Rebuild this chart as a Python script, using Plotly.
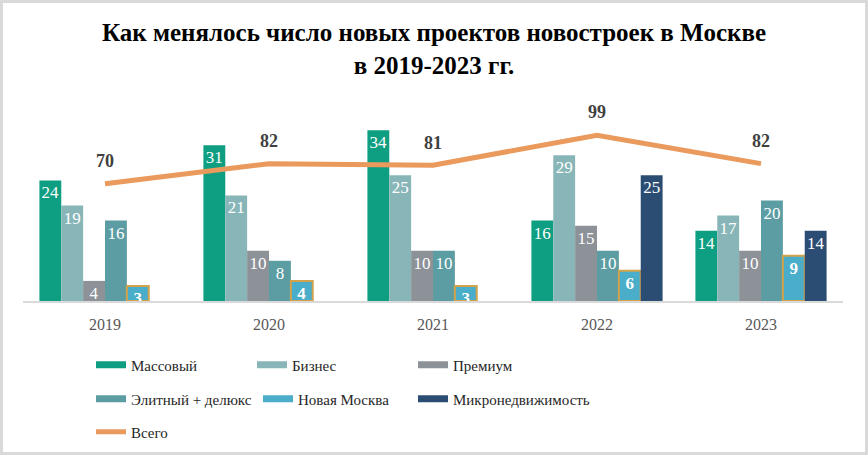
import plotly.graph_objs as go

# data
years = ['2019', '2020', '2021', '2022', '2023']
mass = [24, 31, 34, 16, 14]
business = [19, 21, 25, 29, 17]
premium = [4, 10, 10, 15, 10]
elite = [16, 8, 10, 10, 20]
new_moscow = [3, 4, 3, 6, 9]
micro = [None, None, None, 25, 14]
total = [70, 82, 81, 99, 82]

FONT = 'Liberation Serif'

W, H = 868, 456
ML, MR, MT, MB = 23, 25, 100, 155
PW = W - ML - MR
PH = H - MT - MB

# name, values, fill, border, legend row, legend entry width
bar_series = [
    ('Массовый', mass, '#0E9E82', None, 'legend', 116),
    ('Бизнес', business, '#88B6B8', None, 'legend', 116),
    ('Премиум', premium, '#8D9198', None, 'legend', 116),
    ('Элитный + делюкс', elite, '#5B9DA3', None, 'legend2', 122),
    ('Новая Москва', new_moscow, '#4AADC9', '#D2A24C', 'legend2', 110),
    ('Микронедвижимость', micro, '#2C4D73', None, 'legend2', 170),
]

data = []
for name, vals, color, border, leg, lw in bar_series:
    bold = border is not None
    data.append(go.Bar(
        x=years, y=vals, name=name, showlegend=False,
        marker=dict(color=color,
                    line=dict(color=border or color, width=2 if border else 0)),
        text=[('<b>%d</b>' % v if bold else str(v)) if v is not None else ''
              for v in vals],
        textposition='inside', insidetextanchor='end', constraintext='none',
        textangle=0,
        textfont=dict(family=FONT, size=17, color='white'),
    ))
    # legend entry drawn as a wide swatch like the original
    data.append(go.Scatter(
        x=[None], y=[None], name=name, mode='lines', legend=leg,
        legendwidth=lw, line=dict(color=color, width=7),
    ))

data.append(go.Scatter(
    x=years, y=total, name='Всего', yaxis='y2', showlegend=False,
    mode='lines+markers+text',
    line=dict(color='#E99A5C', width=5),
    marker=dict(size=18, opacity=0, color='#E99A5C'),
    text=['<b>%d</b>' % v for v in total], textposition='top center',
    textfont=dict(family=FONT, size=18, color='#404040'),
    cliponaxis=False,
))
data.append(go.Scatter(
    x=[None], y=[None], name='Всего', mode='lines', legend='legend3',
    legendwidth=116, line=dict(color='#E99A5C', width=5),
))


def leg(y):
    return dict(orientation='h', x=(91 - ML) / PW, xanchor='left',
                y=(MT + PH - y) / PH, yanchor='middle',
                font=dict(family=FONT, size=15, color='#262626'),
                bgcolor='rgba(0,0,0,0)')


layout = go.Layout(
    width=W, height=H,
    margin=dict(l=ML, r=MR, t=MT, b=MB, autoexpand=False),
    paper_bgcolor='white', plot_bgcolor='white',
    barmode='group', bargap=0.2, bargroupgap=0,
    title=dict(text='Как менялось число новых проектов новостроек в Москве'
                    '<br>в 2019-2023 гг.',
               x=0.5, xanchor='center', y=1 - 41 / H, yanchor='middle',
               font=dict(family=FONT, size=25, color='black', weight='bold')),
    xaxis=dict(showline=True, linecolor='#D9D9D9', linewidth=2,
               showgrid=False, ticks='', ticklabelstandoff=8,
               tickfont=dict(family=FONT, size=16, color='#595959')),
    yaxis=dict(range=[0, 40], visible=False, showgrid=False),
    yaxis2=dict(range=[0, 120], overlaying='y', visible=False, showgrid=False),
    legend=leg(365), legend2=leg(399), legend3=leg(432),
    shapes=[dict(type='rect', xref='paper', yref='paper',
                 x0=-(ML - 1.5) / PW, x1=1 + (MR - 1.5) / PW,
                 y0=-(MB - 2.5) / PH, y1=1 + (MT - 1.5) / PH,
                 line=dict(color='#D9D9D9', width=3), layer='below')],
)

fig = go.Figure(data=data, layout=layout)
fig.write_html('out.html', config={'displayModeBar': False},
               post_script="document.body.style.margin = '0';")
